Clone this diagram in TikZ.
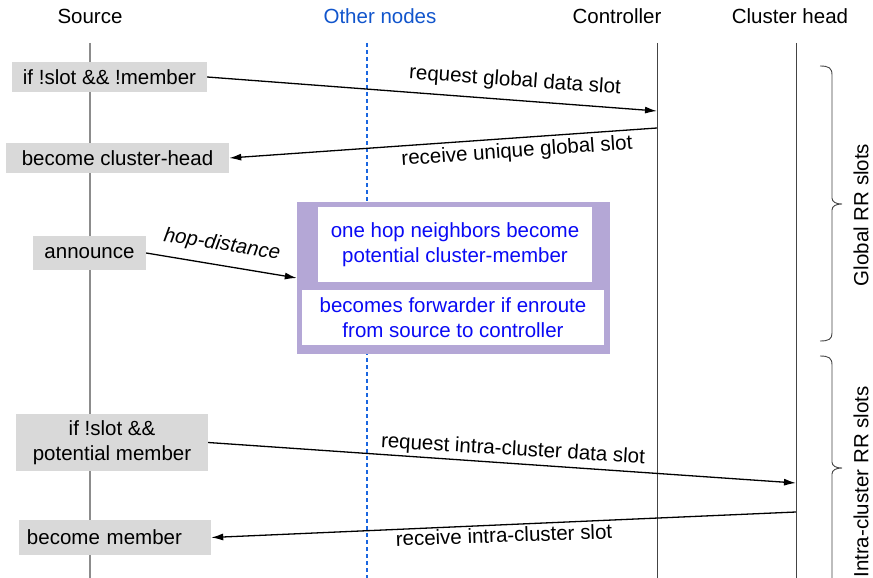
\documentclass[tikz,border=0pt]{standalone}
\usepackage{fontspec}
\setmainfont{Liberation Sans}
\usetikzlibrary{arrows.meta}
\definecolor{boxgray}{HTML}{D9D9D9}
\definecolor{purp}{HTML}{B4A7D6}
\definecolor{txtblue}{HTML}{0A0AF5}
\definecolor{hdrblue}{HTML}{1155CC}
\definecolor{dashblue}{HTML}{1A66E0}
\definecolor{lifegray}{HTML}{8C8C8C}
\definecolor{lifedark}{HTML}{444444}
\begin{document}
\begin{tikzpicture}[x=1pt,y=-1pt,
  font=\fontsize{20.5}{25}\selectfont,
  hdr/.style={inner sep=0pt},
  act/.style={fill=boxgray, inner sep=0pt, align=center},
  note/.style={fill=white, text=txtblue, inner sep=0pt, align=center},
  msg/.style={draw=black, line width=1.3pt, -{Latex[length=12pt,width=7pt]}},
  lbl/.style={inner sep=0pt},
  life/.style={draw=lifedark, line width=1pt},
  brc/.style={draw=lifedark, line width=0.9pt}]
\useasboundingbox (0,0) rectangle (873,578);

% headers
\node[hdr] (hS) at (90,16) {Source};
\node[hdr, text=hdrblue] (hO) at (380,16) {Other nodes};
\node[hdr] (hC) at (617,16) {Controller};
\node[hdr] (hH) at (790,16) {Cluster head};

% lifelines
\coordinate (sT) at (90,43);  \coordinate (sB) at (90,578);
\coordinate (oT) at (367,43); \coordinate (oB) at (367,578);
\coordinate (cT) at (657,43); \coordinate (cB) at (657,578);
\coordinate (hT) at (796,43); \coordinate (hB) at (796,578);
\draw[draw=lifegray, line width=1.6pt] (sT) -- (sB);
\draw[draw=dashblue, line width=1.1pt, dash pattern=on 4pt off 3pt] (oT) -- (oB);
\draw[life] (cT) -- (cB);
\draw[life] (hT) -- (hB);

% action boxes
\node[act, minimum width=195pt, minimum height=30pt] (b1) at (109.5,77) {if !slot \&\& !member};
\node[act, minimum width=223pt, minimum height=30pt] (b2) at (117.5,158) {become cluster-head};
\node[act, minimum width=113pt, minimum height=34pt] (b3) at (89.5,253) {announce};
\node[act, minimum width=192pt, minimum height=57pt] (b4) at (112,442.5) {if !slot \&\&\\potential member};
\node[act, minimum width=192pt, minimum height=35pt, text width=176pt, inner xsep=8pt, align=left] (b5) at (115,537.5) {become member};

% other-nodes group
\node[fill=purp, inner sep=0pt, minimum width=313pt, minimum height=152pt] (grp) at (453.5,278) {};
\node[note, minimum width=274pt, minimum height=75pt] (n1) at (455,244.5) {one hop neighbors become\\potential cluster-member};
\node[note, minimum width=302pt, minimum height=55pt] (n2) at (453,317.5) {becomes forwarder if enroute\\from source to controller};

% message end points
\coordinate (c1) at (657,111);
\coordinate (c2) at (657,128);
\coordinate (h1) at (796,483);
\coordinate (h2) at (796,512);

% messages
\draw[msg] (b1.east) -- (c1);
\draw[msg] (c2) -- (b2.east);
\draw[msg] (b3.east) -- (grp.west);
\draw[msg] (b4.east) -- (h1);
\draw[msg] (h2) -- (b5.east);

% message labels
\node[lbl, rotate=-4] (l1) at (515,81) {request global data slot};
\node[lbl, rotate=4] (l2) at (517,152) {receive unique global slot};
\node[lbl, rotate=-9, font=\fontsize{20.5}{25}\selectfont\itshape] (l3) at (222,245) {hop-distance};
\node[lbl, rotate=-3.5] (l4) at (513,450) {request intra-cluster data slot};
\node[lbl, rotate=2] (l5) at (504,535) {receive intra-cluster slot};

% braces
\draw[brc] (820,66) .. controls (829,66) and (832,68) .. (832,75) -- (832,198)
  .. controls (832,202) and (836,204) .. (842,204)
  .. controls (836,204) and (832,206) .. (832,210) -- (832,333)
  .. controls (832,339) and (829,341) .. (820,341);
\draw[brc] (820,356) .. controls (829,356) and (832,358) .. (832,365) -- (832,462)
  .. controls (832,466) and (836,468) .. (842,468)
  .. controls (836,468) and (832,470) .. (832,474) -- (832,580);
\node[lbl, rotate=90] (tg) at (861,215) {Global RR slots};
\node[lbl, rotate=90] (ti) at (861,482) {Intra-cluster RR slots};
\end{tikzpicture}
\end{document}
